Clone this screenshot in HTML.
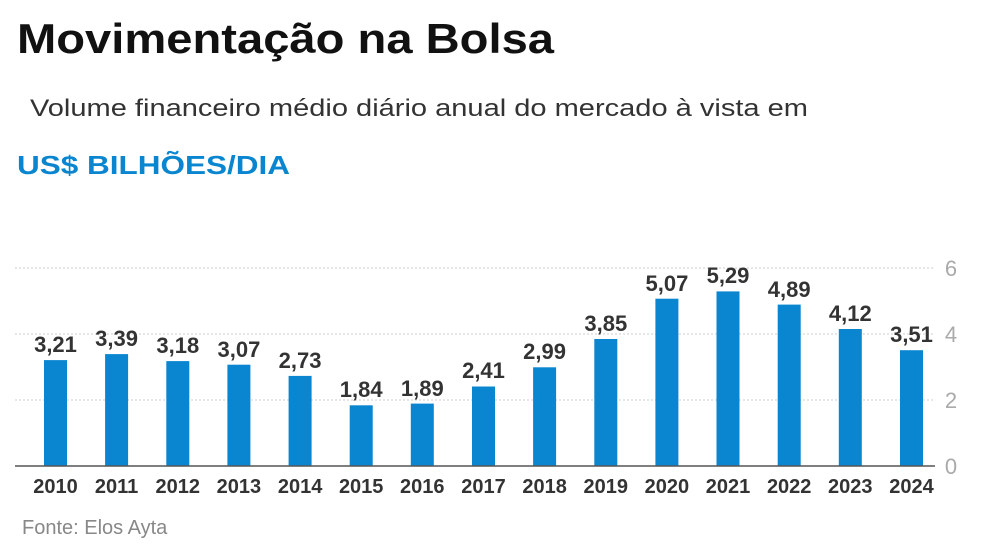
<!DOCTYPE html>
<html><head><meta charset="utf-8"><style>
body{margin:0;background:#fff;width:984px;height:541px;overflow:hidden;font-family:"Liberation Sans",sans-serif}
</style></head><body>
<svg width="984" height="541" xmlns="http://www.w3.org/2000/svg" font-family="Liberation Sans, sans-serif">
<text x="17" y="53" font-size="42" font-weight="bold" fill="#111" textLength="537" lengthAdjust="spacingAndGlyphs">Movimentação na Bolsa</text>
<text x="30" y="116" font-size="24" fill="#333" textLength="778" lengthAdjust="spacingAndGlyphs">Volume financeiro médio diário anual do mercado à vista em</text>
<text x="17" y="174" font-size="26" font-weight="bold" fill="#0a86d0" textLength="273" lengthAdjust="spacingAndGlyphs">US$ BILHÕES/DIA</text>
<g stroke="#ccc" stroke-width="1" stroke-dasharray="2,2">
<line x1="15" y1="268" x2="935" y2="268"/>
<line x1="15" y1="334" x2="935" y2="334"/>
<line x1="15" y1="400" x2="935" y2="400"/>
</g>
<g fill="#aaa" font-size="22" text-anchor="middle">
<text x="951" y="276">6</text><text x="951" y="342">4</text><text x="951" y="408">2</text><text x="951" y="474">0</text>
</g>
<g fill="#0a86d0">
<rect x="44" y="360.1" width="23" height="105.9"/>
<rect x="105.1" y="354.1" width="23" height="111.9"/>
<rect x="166.3" y="361.1" width="23" height="104.9"/>
<rect x="227.4" y="364.7" width="23" height="101.3"/>
<rect x="288.6" y="375.9" width="23" height="90.1"/>
<rect x="349.7" y="405.3" width="23" height="60.7"/>
<rect x="410.8" y="403.6" width="23" height="62.4"/>
<rect x="472" y="386.5" width="23" height="79.5"/>
<rect x="533.1" y="367.3" width="23" height="98.7"/>
<rect x="594.3" y="339" width="23" height="127"/>
<rect x="655.4" y="298.7" width="23" height="167.3"/>
<rect x="716.5" y="291.4" width="23" height="174.6"/>
<rect x="777.7" y="304.6" width="23" height="161.4"/>
<rect x="838.8" y="329" width="23" height="137"/>
<rect x="900" y="350.2" width="23" height="115.8"/>
</g>
<g font-size="22" font-weight="bold" fill="#333" text-anchor="middle">
<text x="55.5" y="352">3,21</text>
<text x="116.6" y="346">3,39</text>
<text x="177.8" y="353">3,18</text>
<text x="238.9" y="357">3,07</text>
<text x="300.1" y="368">2,73</text>
<text x="361.2" y="397">1,84</text>
<text x="422.3" y="396">1,89</text>
<text x="483.5" y="378">2,41</text>
<text x="544.6" y="359">2,99</text>
<text x="605.8" y="331">3,85</text>
<text x="666.9" y="291">5,07</text>
<text x="728" y="283">5,29</text>
<text x="789.2" y="297">4,89</text>
<text x="850.3" y="321">4,12</text>
<text x="911.5" y="342">3,51</text>
</g>
<g font-size="20" font-weight="bold" fill="#333" text-anchor="middle">
<text x="55.5" y="493">2010</text><text x="116.6" y="493">2011</text><text x="177.8" y="493">2012</text>
<text x="238.9" y="493">2013</text><text x="300.1" y="493">2014</text><text x="361.2" y="493">2015</text>
<text x="422.3" y="493">2016</text><text x="483.5" y="493">2017</text><text x="544.6" y="493">2018</text>
<text x="605.8" y="493">2019</text><text x="666.9" y="493">2020</text><text x="728" y="493">2021</text>
<text x="789.2" y="493">2022</text><text x="850.3" y="493">2023</text><text x="911.5" y="493">2024</text>
</g>
<line x1="15" y1="466" x2="935" y2="466" stroke="#555" stroke-width="1.5"/>
<text x="22" y="534" font-size="20" fill="#888">Fonte: Elos Ayta</text>
</svg>
</body></html>
